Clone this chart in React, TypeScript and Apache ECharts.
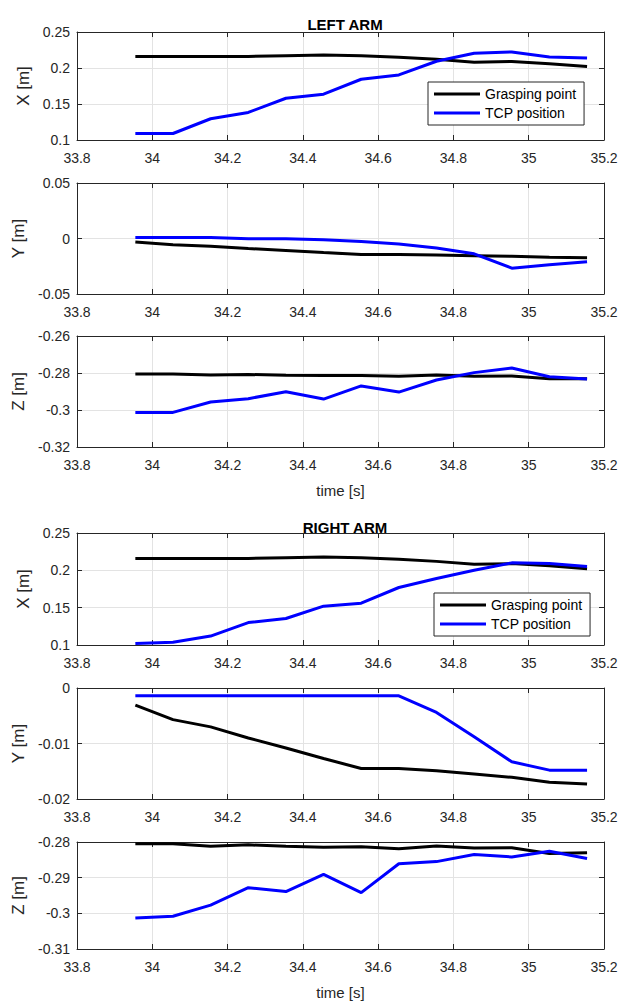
import React, { useEffect, useRef } from "react";
import * as echarts from "echarts";

// time stamps [s]
const time = [33.955, 34.055, 34.155, 34.255, 34.355, 34.455, 34.555, 34.655, 34.755, 34.855, 34.955, 35.055, 35.155];

// LEFT ARM
const leftGraspX = [0.216, 0.216, 0.216, 0.216, 0.217, 0.218, 0.217, 0.215, 0.212, 0.208, 0.209, 0.206, 0.202];
const leftTcpX = [0.109, 0.109, 0.1295, 0.1383, 0.158, 0.1637, 0.1844, 0.1904, 0.2094, 0.2205, 0.2223, 0.2154, 0.214];
const leftGraspY = [-0.0031, -0.0057, -0.007, -0.009, -0.0108, -0.0127, -0.0145, -0.0145, -0.0149, -0.0155, -0.0161, -0.017, -0.0173];
const leftTcpY = [0.001, 0.001, 0.001, -0.0003, -0.0003, -0.0012, -0.0027, -0.005, -0.0086, -0.0138, -0.0267, -0.0237, -0.021];
const leftGraspZ = [-0.2805, -0.2805, -0.2811, -0.2808, -0.2812, -0.2814, -0.2813, -0.2818, -0.2811, -0.2817, -0.2816, -0.2831, -0.2831];
const leftTcpZ = [-0.3013, -0.3013, -0.2957, -0.2939, -0.2901, -0.2941, -0.287, -0.2903, -0.2838, -0.2798, -0.2773, -0.282, -0.2832];

// RIGHT ARM
const rightGraspX = [0.216, 0.216, 0.216, 0.216, 0.217, 0.218, 0.217, 0.215, 0.212, 0.208, 0.209, 0.206, 0.202];
const rightTcpX = [0.102, 0.1036, 0.112, 0.13, 0.1355, 0.152, 0.156, 0.177, 0.189, 0.2, 0.21, 0.209, 0.205];
const rightGraspY = [-0.0031, -0.0057, -0.007, -0.009, -0.0108, -0.0127, -0.0145, -0.0145, -0.0149, -0.0155, -0.0161, -0.017, -0.0173];
const rightTcpY = [-0.0014, -0.0014, -0.0014, -0.0014, -0.0014, -0.0014, -0.0014, -0.0014, -0.0044, -0.0088, -0.0133, -0.0148, -0.0148];
const rightGraspZ = [-0.2805, -0.2805, -0.2812, -0.2808, -0.2812, -0.2815, -0.2813, -0.2819, -0.2811, -0.2817, -0.2816, -0.2832, -0.283];
const rightTcpZ = [-0.3013, -0.3008, -0.2977, -0.2928, -0.2939, -0.2891, -0.2942, -0.2861, -0.2855, -0.2835, -0.2842, -0.2826, -0.2846];

const seriesNames = ["Grasping point", "TCP position"];
const seriesColors = ["#000000", "#0000ff"];
const titles = ["LEFT ARM", "RIGHT ARM"];
const yNames = ["X [m]", "Y [m]", "Z [m]", "X [m]", "Y [m]", "Z [m]"];
const xName = "time [s]";
const xRange = [33.8, 35.2, 0.2];
const yRanges = [
  [0.1, 0.25, 0.05],
  [-0.05, 0.05, 0.05],
  [-0.32, -0.26, 0.02],
  [0.1, 0.25, 0.05],
  [-0.02, 0, 0.01],
  [-0.31, -0.28, 0.01],
];
const panelData = [
  [leftGraspX, leftTcpX],
  [leftGraspY, leftTcpY],
  [leftGraspZ, leftTcpZ],
  [rightGraspX, rightTcpX],
  [rightGraspY, rightTcpY],
  [rightGraspZ, rightTcpZ],
];

const FONT = "'Liberation Sans', Arial, sans-serif";
const TXT = "#262626";
const GRIDC = "#e3e3e3";

const fmt = (v: number) => {
  const r = parseFloat(v.toFixed(4));
  return String(r === 0 ? 0 : r);
};

export default function App() {
  const ref = useRef<HTMLDivElement>(null);
  useEffect(() => {
    if (!ref.current) return;
    const chart = echarts.init(ref.current, undefined, { renderer: "svg" });
    const L = 77;
    const W = 527;
    const panels = [
      { top: 32, height: 108 },
      { top: 183, height: 111 },
      { top: 336, height: 111 },
      { top: 533, height: 112 },
      { top: 688, height: 111 },
      { top: 842, height: 109 },
    ];
    const grid: any[] = [];
    const xAxis: any[] = [];
    const yAxis: any[] = [];
    const series: any[] = [];
    panels.forEach((p, i) => {
      grid.push({ left: L, top: p.top, width: W, height: p.height, containLabel: false });
      const [ymin, ymax, yint] = yRanges[i];
      const showXName = i === 2 || i === 5;
      xAxis.push({
        type: "value",
        gridIndex: i,
        min: xRange[0],
        max: xRange[1],
        interval: xRange[2],
        position: "bottom",
        name: showXName ? xName : "",
        nameLocation: "middle",
        nameGap: 36,
        nameTextStyle: { fontFamily: FONT, fontSize: 15, color: TXT },
        axisLine: { show: true, onZero: false, lineStyle: { color: TXT, width: 1 } },
        axisTick: { show: true, inside: true, length: 5, lineStyle: { color: TXT } },
        axisLabel: { fontFamily: FONT, fontSize: 14, color: TXT, margin: 11, formatter: fmt },
        splitLine: { show: true, lineStyle: { color: GRIDC, width: 1 } },
      });
      xAxis.push({
        type: "value",
        gridIndex: i,
        min: xRange[0],
        max: xRange[1],
        interval: xRange[2],
        position: "top",
        axisLine: { show: true, onZero: false, lineStyle: { color: TXT, width: 1 } },
        axisTick: { show: true, inside: true, length: 5, lineStyle: { color: TXT } },
        axisLabel: { show: false },
        splitLine: { show: false },
      });
      yAxis.push({
        type: "value",
        gridIndex: i,
        min: ymin,
        max: ymax,
        interval: yint,
        position: "left",
        name: yNames[i],
        nameLocation: "middle",
        nameGap: 41,
        nameRotate: 90,
        nameTextStyle: { fontFamily: FONT, fontSize: 17, color: TXT },
        axisLine: { show: true, onZero: false, lineStyle: { color: TXT, width: 1 } },
        axisTick: { show: true, inside: true, length: 5, lineStyle: { color: TXT } },
        axisLabel: { fontFamily: FONT, fontSize: 14, color: TXT, margin: 7, formatter: fmt },
        splitLine: { show: true, lineStyle: { color: GRIDC, width: 1 } },
      });
      yAxis.push({
        type: "value",
        gridIndex: i,
        min: ymin,
        max: ymax,
        interval: yint,
        position: "right",
        axisLine: { show: true, onZero: false, lineStyle: { color: TXT, width: 1 } },
        axisTick: { show: true, inside: true, length: 5, lineStyle: { color: TXT } },
        axisLabel: { show: false },
        splitLine: { show: false },
      });
      panelData[i].forEach((vals, k) => {
        series.push({
          type: "line",
          name: seriesNames[k],
          xAxisIndex: i * 2,
          yAxisIndex: i * 2,
          data: time.map((t, j) => [t, vals[j]]),
          showSymbol: false,
          symbol: "none",
          lineStyle: { color: seriesColors[k], width: 3 },
          itemStyle: { color: seriesColors[k] },
          z: 3 + k,
        });
      });
    });

    const legendBase = {
      orient: "vertical",
      data: seriesNames,
      selectedMode: false,
      icon: "rect",
      itemWidth: 46,
      itemHeight: 3,
      itemGap: 5,
      padding: [5, 8, 5, 6],
      borderColor: TXT,
      borderWidth: 1,
      borderRadius: 0,
      backgroundColor: "#ffffff",
      textStyle: { fontFamily: FONT, fontSize: 14, color: "#000000" },
    };

    chart.setOption({
      animation: false,
      backgroundColor: "#ffffff",
      title: [
        { text: titles[0], left: 340, top: 12, textAlign: "center", textStyle: { fontFamily: FONT, fontSize: 15, fontWeight: "bold", color: "#000" } },
        { text: titles[1], left: 340, top: 515, textAlign: "center", textStyle: { fontFamily: FONT, fontSize: 15, fontWeight: "bold", color: "#000" } },
      ],
      legend: [
        { ...legendBase, left: 428, top: 82 },
        { ...legendBase, left: 434, top: 593 },
      ],
      grid,
      xAxis,
      yAxis,
      series,
    });
    return () => chart.dispose();
  }, []);
  return <div ref={ref} style={{ position: "absolute", left: 0, top: 0, width: 622, height: 1001 }} />;
}
